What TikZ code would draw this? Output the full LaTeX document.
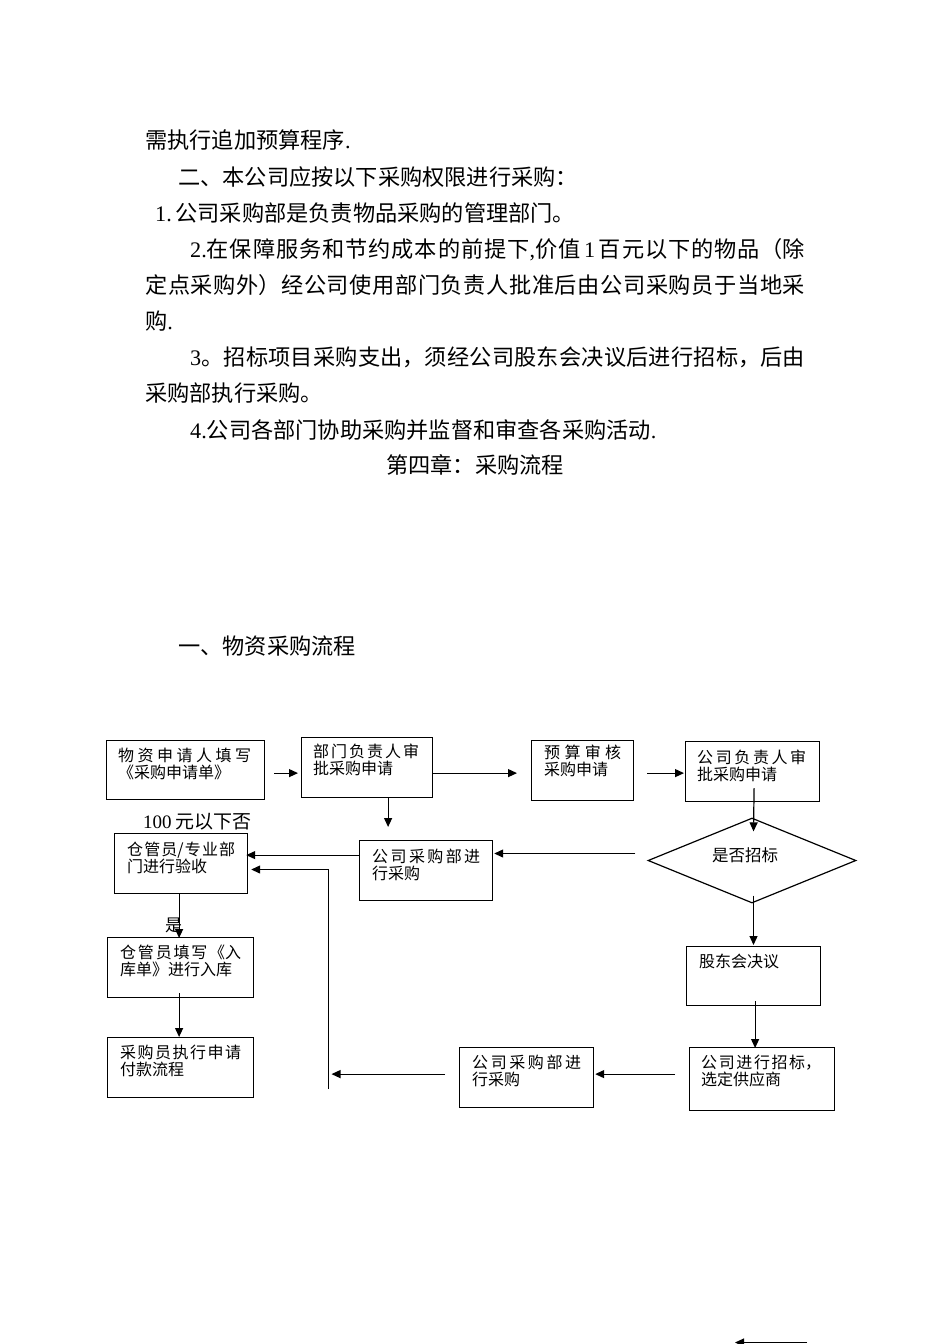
\documentclass[tikz,border=0pt]{standalone}
\usepackage{fontspec}
\setmainfont{Noto Sans CJK SC}
\newfontfamily\lat{Liberation Serif}
\usetikzlibrary{arrows.meta,calc,shapes.geometric}
\XeTeXlinebreaklocale "zh"
\XeTeXlinebreakskip=0pt plus 6pt
\tikzset{
  box/.style={draw, line width=1.2pt, inner sep=0pt, anchor=north west},
  btxt/.style={anchor=base west, inner sep=0pt, align=justify, font=\fontsize{16}{17.5}\selectfont},
  arr/.style={line width=1.2pt, -{Triangle[length=9pt,width=8pt]}},
  ln/.style={line width=1.2pt},
  body/.style={anchor=base west, inner sep=0pt, font=\fontsize{22.2}{36}\selectfont},
  jbody/.style={body, align=justify},
}
\begin{document}
\begin{tikzpicture}[x=1pt,y=-1pt]
\fill[white] (0,0) rectangle (950,1344);
\useasboundingbox (0,0) rectangle (950,1344);

% ---- body text ----
\node[body] (p1) at (145,148.4) {需执行追加预算程序{\lat .}};
\node[body] (p2) at (178,185.4) {二、本公司应按以下采购权限进行采购：};
\node[body] (p3) at (155,221.4) {{\lat 1.}\,公司采购部是负责物品采购的管理部门。};
\node[jbody, text width=615pt] (p4) at (190,257.4) {{\lat 2.}在保障服务和节约成本的前提下{\lat ,}价值\,{\lat 1}\,百元以下的物品（除\linebreak};
\node[jbody, text width=660pt] (p5) at (145,293.4) {定点采购外）经公司使用部门负责人批准后由公司采购员于当地采\linebreak};
\node[body] (p6) at (145,329.4) {购{\lat .}};
\node[jbody, text width=615pt] (p7) at (190,365.4) {{\lat 3}。招标项目采购支出，须经公司股东会决议后进行招标，后由\linebreak};
\node[body] (p8) at (145,401.4) {采购部执行采购。};
\node[body] (p9) at (190,438.4) {{\lat 4.}公司各部门协助采购并监督和审查各采购活动{\lat .}};
\node[body, anchor=base] (p10) at (475,473.4) {第四章：采购流程};
\node[body] (p11) at (178,654.4) {一、物资采购流程};

% ---- boxes ----
\node[box, minimum width=158pt, minimum height=59pt] (b1) at (106,740) {};
\node[box, minimum width=131pt, minimum height=60pt] (b2) at (301,737) {};
\node[box, minimum width=102pt, minimum height=60pt] (b3) at (531,740) {};
\node[box, minimum width=134pt, minimum height=60pt] (b4) at (685,741) {};
\node[box, minimum width=133pt, minimum height=60pt] (b5) at (359,840) {};
\node[box, minimum width=133pt, minimum height=60pt] (b6) at (114,833) {};
\node[box, minimum width=146pt, minimum height=60pt] (b7) at (107,937) {};
\node[box, minimum width=146pt, minimum height=60pt] (b8) at (107,1037) {};
\node[box, minimum width=134pt, minimum height=60pt] (b9) at (459,1047) {};
\node[box, minimum width=145pt, minimum height=63pt] (b10) at (689,1047) {};
\node[box, minimum width=134pt, minimum height=59pt] (b11) at (686,946) {};
\node[draw, diamond, line width=1.2pt, minimum width=208pt, minimum height=85pt, inner sep=0pt, aspect=2.45] (dm) at (752,860.5) {};

% ---- box texts ----
\node[btxt, text width=133pt] (t1) at ($(b1.north west)+(12,21)$) {物资申请人填写\linebreak《采购申请单》};
\node[btxt, text width=106pt] (t2) at ($(b2.north west)+(12,20)$) {部门负责人审\linebreak 批采购申请};
\node[btxt, text width=77pt] (t3) at ($(b3.north west)+(13,18)$) {预算审核\linebreak 采购申请};
\node[btxt, text width=109pt] (t4) at ($(b4.north west)+(12,22)$) {公司负责人审\linebreak 批采购申请};
\node[btxt, text width=108pt] (t5) at ($(b5.north west)+(13,22)$) {公司采购部进\linebreak 行采购};
\node[btxt, text width=108pt] (t6) at ($(b6.north west)+(13,22)$) {仓管员/专业部\linebreak 门进行验收};
\node[btxt, text width=121pt] (t7) at ($(b7.north west)+(13,21)$) {仓管员填写《入\linebreak 库单》进行入库};
\node[btxt, text width=121pt] (t8) at ($(b8.north west)+(13,21)$) {采购员执行申请\linebreak 付款流程};
\node[btxt, text width=109pt] (t9) at ($(b9.north west)+(13,21)$) {公司采购部进\linebreak 行采购};
\node[btxt, text width=120pt] (t10) at ($(b10.north west)+(12,21)$) {公司进行招标，\linebreak 选定供应商};
\node[btxt, text width=108pt] (t11) at ($(b11.north west)+(13,21)$) {股东会决议};
\node[inner sep=0pt, font=\fontsize{16.5}{18}\selectfont] (td) at (745,855) {是否招标};

% ---- labels ----
\node[anchor=base west, inner sep=0pt, font=\fontsize{19}{19}\selectfont] (lab1) at (143,828) {{\lat 100} 元以下否};
\node[anchor=base west, inner sep=0pt, font=\fontsize{17}{17}\selectfont] (lab2) at (165,931) {是};

% ---- connectors ----
\draw[arr] ($(b1.east)+(9,3)$) coordinate (a1) -- ($(a1 -| b2.west)+(-3,0)$);
\draw[arr] ($(b2.east)+(0,5.5)$) coordinate (a2) -- ($(a2 -| b3.west)+(-14,0)$);
\draw[arr] ($(b3.east)+(13,2.5)$) coordinate (a3) -- ($(a3 -| b4.west)+(-1,0)$);
\draw[arr] ($(b4.south)+(1.5,-14)$) -- ($(dm.north)+(1.5,14)$);
\draw[arr] ($(dm.west)+(-12,-7)$) coordinate (a5) -- ($(a5 -| b5.east)+(1,0)$);
\draw[arr] ($(b2.south)+(21,0)$) coordinate (a6) -- ($(a6 |- b5.north)+(0,-13)$);
\draw[arr] ($(b5.west)+(0,-15.5)$) coordinate (a7) -- ($(a7 -| b6.east)+(-2,0)$);
\coordinate (c1) at (328.5,1089);
\coordinate (c2) at (328.5,869.5);
\draw[arr] (c1) -- (c2) -- ($(c2 -| b6.east)+(3,0)$);
\draw[arr] ($(b6.south)+(-2,0)$) coordinate (a9) -- ($(a9 |- b7.north)+(0,1)$);
\draw[arr] ($(b7.south)+(-1.5,-5)$) coordinate (a10) -- (a10 |- b8.north);
\draw[arr] ($(b9.west)+(-14,-3.5)$) coordinate (a11) -- ($(a11 -| c1)+(3,0)$);
\draw[arr] ($(b10.west)+(-14,-5)$) coordinate (a12) -- ($(a12 -| b9.east)+(1,0)$);
\draw[arr] ($(dm.south)+(1.5,-8)$) coordinate (a13) -- ($(a13 |- b11.north)+(0,-1)$);
\draw[arr] ($(b11.south)+(1.5,-5)$) coordinate (a14) -- ($(a14 |- b10.north)+(0,1)$);

% ---- stray arrow at page bottom ----
\begin{scope}
\clip (0,0) rectangle (950,1344);
\coordinate (s1) at (807,1342.5);
\coordinate (s2) at (735,1342.5);
\draw[arr] (s1) -- (s2);
\end{scope}
\end{tikzpicture}
\end{document}
